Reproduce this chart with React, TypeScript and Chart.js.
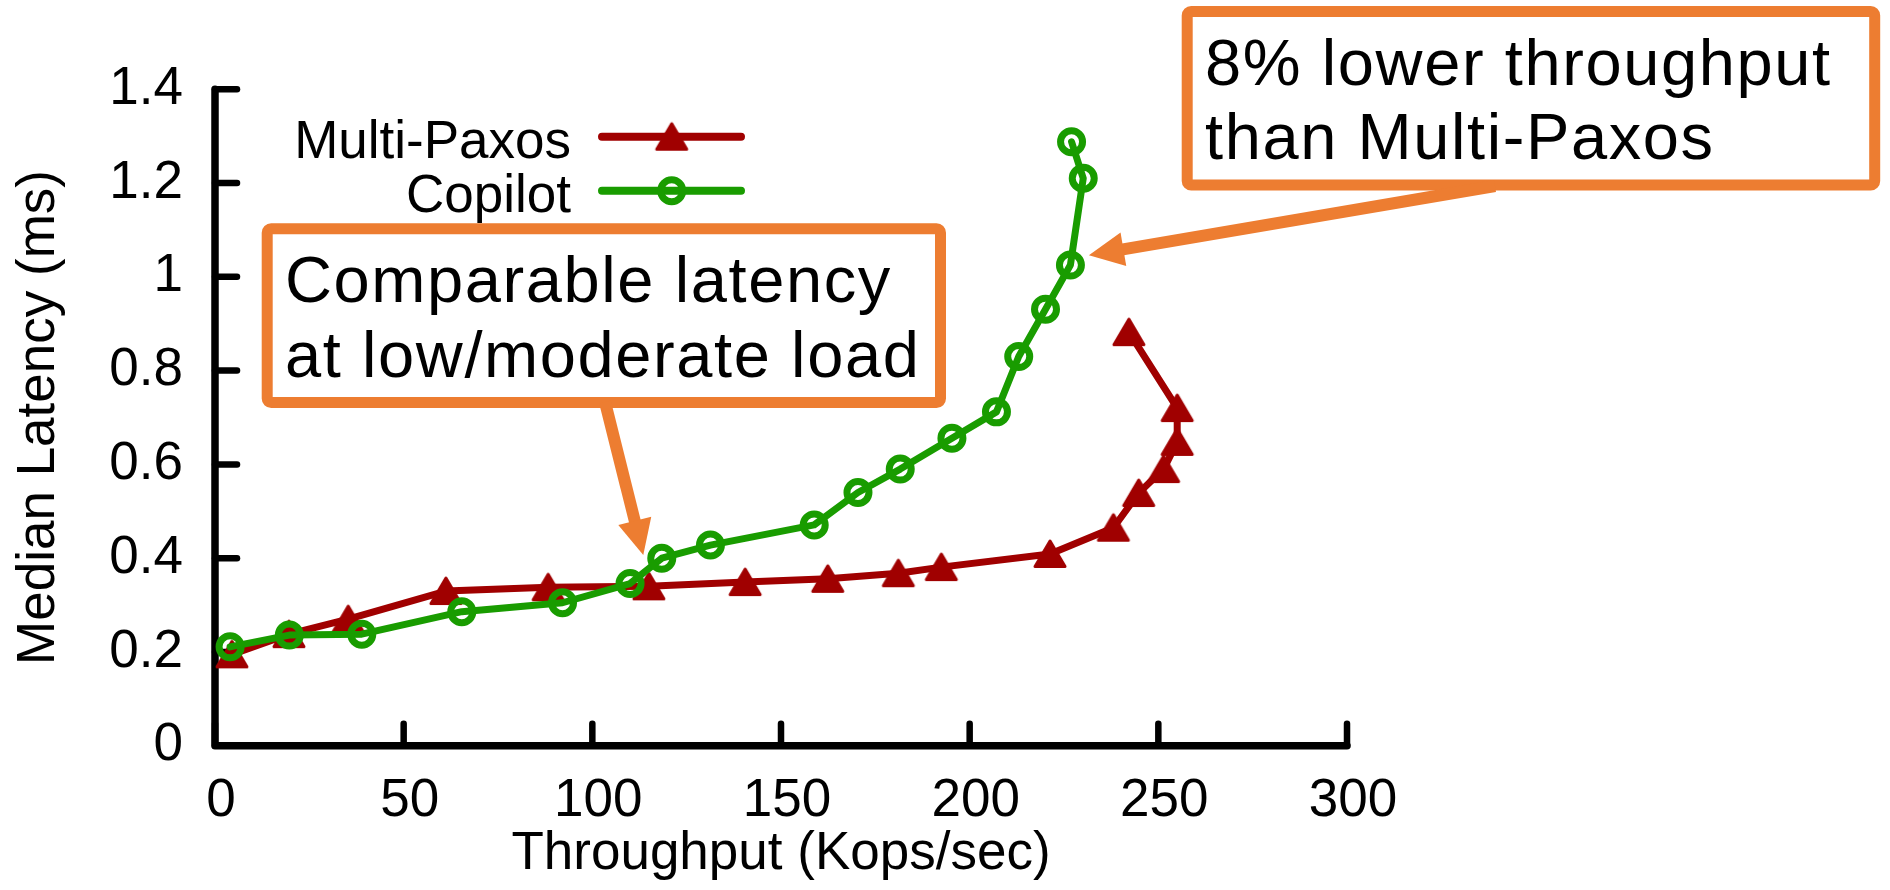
import React, { useEffect, useRef } from 'react';
import { Chart, registerables } from 'chart.js';

Chart.register(...registerables);

// ---------------- data ----------------
const SERIES_NAMES = ['Multi-Paxos', 'Copilot'];

const multiPaxosThroughput = [4.5, 19.6, 35.3, 61.2, 88.3, 115.0, 140.5, 162.4, 181.1, 192.5, 221.3, 238.1, 244.8, 251.4, 255.0, 255.0, 242.2];
const multiPaxosLatency = [0.195, 0.238, 0.27, 0.33, 0.338, 0.34, 0.349, 0.356, 0.368, 0.381, 0.409, 0.465, 0.539, 0.59, 0.648, 0.72, 0.882];

const copilotThroughput = [4.0, 19.7, 38.9, 65.4, 92.1, 110.0, 118.4, 131.3, 158.8, 170.4, 181.6, 195.3, 207.1, 213.0, 220.1, 226.7, 230.1, 227.0];
const copilotLatency = [0.211, 0.236, 0.238, 0.286, 0.305, 0.346, 0.4, 0.428, 0.471, 0.54, 0.59, 0.656, 0.712, 0.83, 0.931, 1.025, 1.21, 1.288];

const X_TICKS = [0, 50, 100, 150, 200, 250, 300];
const X_TICK_LABELS = ['0', '50', '100', '150', '200', '250', '300'];
const Y_TICKS = [0, 0.2, 0.4, 0.6, 0.8, 1, 1.2, 1.4];
const Y_TICK_LABELS = ['0', '0.2', '0.4', '0.6', '0.8', '1', '1.2', '1.4'];

const X_TITLE = 'Throughput (Kops/sec)';
const Y_TITLE = 'Median Latency (ms)';

const NOTE_LOW = ['Comparable latency', 'at low/moderate load'];
const NOTE_HIGH = ['8% lower throughput', 'than Multi-Paxos'];
// arrow tips, in data space
const NOTE_LOW_TIP = [113.5, 0.407];
const NOTE_HIGH_TIP = [231.6, 1.046];

// ---------------- layout / style ----------------
const W = 1890;
const H = 890;
const PLOT_LEFT = 215;
const PLOT_RIGHT = 1347;
const PLOT_TOP = 89.2;
const PLOT_BOTTOM = 745.8;

const FONT_FAMILY = "'Liberation Sans', Arial, Helvetica, sans-serif";
const RED = '#a00000';
const GREEN = '#199c00';
const ORANGE = '#ed7d31';

function makeTriangle(color: string): HTMLCanvasElement {
  const c = document.createElement('canvas');
  c.width = 36;
  c.height = 34;
  const g = c.getContext('2d')!;
  g.fillStyle = color;
  g.strokeStyle = color;
  g.lineWidth = 3;
  g.lineJoin = 'round';
  g.beginPath();
  g.moveTo(18, 4);
  g.lineTo(33, 29.5);
  g.lineTo(3, 29.5);
  g.closePath();
  g.fill();
  g.stroke();
  return c;
}

function drawArrow(ctx: CanvasRenderingContext2D, x0: number, y0: number, tx: number, ty: number) {
  const dx = tx - x0;
  const dy = ty - y0;
  const len = Math.hypot(dx, dy);
  const ux = dx / len;
  const uy = dy / len;
  const headLen = 35;
  const headHalf = 17;
  const bx = tx - ux * headLen;
  const by = ty - uy * headLen;
  ctx.save();
  ctx.strokeStyle = ORANGE;
  ctx.fillStyle = ORANGE;
  ctx.lineWidth = 12;
  ctx.lineCap = 'butt';
  ctx.beginPath();
  ctx.moveTo(x0, y0);
  ctx.lineTo(bx + ux * 2, by + uy * 2);
  ctx.stroke();
  ctx.beginPath();
  ctx.moveTo(tx, ty);
  ctx.lineTo(bx - uy * headHalf, by + ux * headHalf);
  ctx.lineTo(bx + uy * headHalf, by - ux * headHalf);
  ctx.closePath();
  ctx.fill();
  ctx.restore();
}

function drawNote(ctx: CanvasRenderingContext2D, x: number, y: number, w: number, h: number, lines: string[], tx: number, baselines: number[]) {
  ctx.save();
  ctx.beginPath();
  (ctx as any).roundRect(x, y, w, h, 4);
  ctx.fillStyle = '#ffffff';
  ctx.fill();
  ctx.lineWidth = 11;
  ctx.strokeStyle = ORANGE;
  ctx.lineJoin = 'round';
  ctx.stroke();
  ctx.fillStyle = '#000000';
  ctx.font = `65px ${FONT_FAMILY}`;
  (ctx as any).letterSpacing = '1.6px';
  ctx.textAlign = 'left';
  ctx.textBaseline = 'alphabetic';
  lines.forEach((t, i) => ctx.fillText(t, tx, baselines[i]));
  ctx.restore();
}

export default function App() {
  const ref = useRef<HTMLCanvasElement | null>(null);

  useEffect(() => {
    document.body.style.margin = '0';
    document.body.style.overflow = 'hidden';
    const canvas = ref.current;
    if (!canvas) return;

    const triangle = makeTriangle(RED);
    const axisFont = { family: FONT_FAMILY, size: 53, lineHeight: 1.2 };

    const overlay = {
      id: 'overlay',
      beforeDatasetsDraw(chart: any) {
        const ctx: CanvasRenderingContext2D = chart.ctx;
        const xs = chart.scales.x;
        const ys = chart.scales.y;
        const x0 = xs.getPixelForValue(X_TICKS[0]);
        const x1 = xs.getPixelForValue(X_TICKS[X_TICKS.length - 1]);
        const y0 = ys.getPixelForValue(Y_TICKS[0]);
        const y1 = ys.getPixelForValue(Y_TICKS[Y_TICKS.length - 1]);
        ctx.save();
        ctx.strokeStyle = '#000';
        ctx.lineCap = 'round';
        ctx.lineJoin = 'round';
        ctx.lineWidth = 6.5;
        Y_TICKS.forEach((v) => {
          const p = ys.getPixelForValue(v);
          ctx.beginPath();
          ctx.moveTo(x0, p);
          ctx.lineTo(x0 + 22, p);
          ctx.stroke();
        });
        X_TICKS.forEach((v) => {
          const p = xs.getPixelForValue(v);
          ctx.beginPath();
          ctx.moveTo(p, y0);
          ctx.lineTo(p, y0 - 22);
          ctx.stroke();
        });
        ctx.lineWidth = 7.5;
        ctx.beginPath();
        ctx.moveTo(x0, y1);
        ctx.lineTo(x0, y0);
        ctx.lineTo(x1, y0);
        ctx.stroke();
        ctx.restore();
      },
      afterDatasetsDraw(chart: any) {
        const ctx: CanvasRenderingContext2D = chart.ctx;
        const xs = chart.scales.x;
        const ys = chart.scales.y;
        drawNote(ctx, 267.2, 228.8, 673.3, 173.7, NOTE_LOW, 285, [301.7, 376.7]);
        drawNote(ctx, 1187.2, 11.5, 687.5, 173.5, NOTE_HIGH, 1205, [85, 159.3]);
        drawArrow(ctx, 605, 402, xs.getPixelForValue(NOTE_LOW_TIP[0]), ys.getPixelForValue(NOTE_LOW_TIP[1]));
        drawArrow(ctx, 1495, 186, xs.getPixelForValue(NOTE_HIGH_TIP[0]), ys.getPixelForValue(NOTE_HIGH_TIP[1]));
      },
      afterDraw(chart: any) {
        const ctx: CanvasRenderingContext2D = chart.ctx;
        ctx.save();
        ctx.font = `53px ${FONT_FAMILY}`;
        ctx.textAlign = 'right';
        ctx.textBaseline = 'alphabetic';
        const rows = [
          { name: SERIES_NAMES[0], base: 158.3, ly: 136.7, color: RED },
          { name: SERIES_NAMES[1], base: 212, ly: 190.7, color: GREEN },
        ];
        rows.forEach((r, i) => {
          ctx.fillStyle = '#000';
          ctx.fillText(r.name, 571, r.base);
          ctx.strokeStyle = r.color;
          ctx.lineWidth = 8;
          ctx.lineCap = 'round';
          ctx.beginPath();
          ctx.moveTo(602, r.ly);
          ctx.lineTo(741, r.ly);
          ctx.stroke();
          if (i === 0) {
            ctx.drawImage(triangle, 671.7 - triangle.width / 2, r.ly - triangle.height / 2);
          } else {
            ctx.lineWidth = 7;
            ctx.beginPath();
            ctx.arc(671.7, r.ly, 11, 0, Math.PI * 2);
            ctx.stroke();
          }
        });
        ctx.restore();
      },
    };

    const chart = new Chart(canvas, {
      type: 'scatter',
      data: {
        datasets: [
          {
            label: SERIES_NAMES[0],
            data: multiPaxosThroughput.map((x, i) => ({ x, y: multiPaxosLatency[i] })),
            showLine: true,
            borderColor: RED,
            borderWidth: 7,
            borderJoinStyle: 'round',
            borderCapStyle: 'round',
            pointStyle: triangle as any,
            pointRadius: 16,
            pointBackgroundColor: RED,
            pointBorderColor: RED,
            clip: false as any,
            order: 2,
          } as any,
          {
            label: SERIES_NAMES[1],
            data: copilotThroughput.map((x, i) => ({ x, y: copilotLatency[i] })),
            showLine: true,
            borderColor: GREEN,
            borderWidth: 7,
            borderJoinStyle: 'round',
            borderCapStyle: 'round',
            pointStyle: 'circle',
            pointRadius: 11,
            pointBorderWidth: 7,
            pointBackgroundColor: 'rgba(0,0,0,0)',
            pointBorderColor: GREEN,
            clip: false as any,
            order: 1,
          } as any,
        ],
      },
      options: {
        animation: false,
        responsive: false,
        devicePixelRatio: 1,
        events: [],
        layout: { padding: { left: 0, top: PLOT_TOP, right: W - PLOT_RIGHT, bottom: 0 } },
        plugins: { legend: { display: false }, tooltip: { enabled: false }, title: { display: false } },
        scales: {
          x: {
            type: 'linear',
            position: 'bottom',
            min: X_TICKS[0],
            max: X_TICKS[X_TICKS.length - 1],
            afterBuildTicks: (s: any) => {
              s.ticks = X_TICKS.map((v) => ({ value: v }));
            },
            afterFit: (s: any) => {
              s.height = H - PLOT_BOTTOM;
            },
            grid: { display: false, drawTicks: false, tickLength: 0 },
            border: { display: false },
            ticks: {
              font: axisFont,
              color: '#000',
              padding: 24,
              labelOffset: 6,
              maxRotation: 0,
              autoSkip: false,
              callback: (_v: any, i: number) => X_TICK_LABELS[i],
            },
            title: { display: true, text: X_TITLE, font: axisFont, color: '#000', padding: { top: 0, bottom: 3.6 } },
          },
          y: {
            type: 'linear',
            position: 'left',
            min: Y_TICKS[0],
            max: Y_TICKS[Y_TICKS.length - 1],
            afterBuildTicks: (s: any) => {
              s.ticks = Y_TICKS.map((v) => ({ value: v }));
            },
            afterFit: (s: any) => {
              s.width = PLOT_LEFT;
            },
            grid: { display: false, drawTicks: false, tickLength: 0 },
            border: { display: false },
            ticks: {
              font: axisFont,
              color: '#000',
              padding: 32,
              autoSkip: false,
              callback: (_v: any, i: number) => Y_TICK_LABELS[i],
            },
            title: { display: true, text: Y_TITLE, font: axisFont, color: '#000', padding: { top: 8, bottom: 0 } },
          },
        },
      } as any,
      plugins: [overlay],
    });

    return () => {
      chart.destroy();
    };
  }, []);

  return (
    <div style={{ width: W, height: H, background: '#fff' }}>
      <canvas ref={ref} width={W} height={H} style={{ display: 'block', width: W, height: H }} />
    </div>
  );
}
